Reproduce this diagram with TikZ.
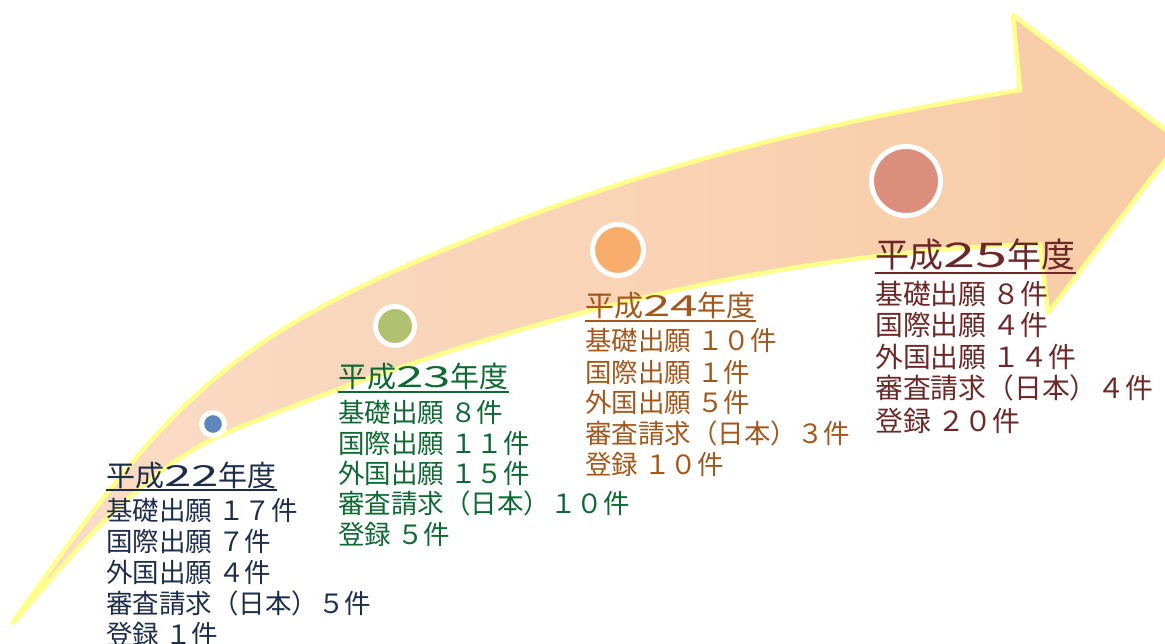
\documentclass[tikz,border=0pt]{standalone}
\usepackage{fontspec}
\newfontfamily\jp{Noto Sans CJK JP}
\newfontfamily\jpwide[FakeStretch=1.7]{Noto Sans CJK JP}
\definecolor{arrowL}{HTML}{FADCC7}
\definecolor{arrowR}{HTML}{F8CCA5}
\definecolor{glow}{HTML}{FFFF8C}
\definecolor{cA}{HTML}{1E2D4C}
\definecolor{cB}{HTML}{0E6934}
\definecolor{cC}{HTML}{A3571C}
\definecolor{cD}{HTML}{6C2828}
\definecolor{dA}{HTML}{5E87BE}
\definecolor{dB}{HTML}{B0C26F}
\definecolor{dC}{HTML}{F9AD6D}
\definecolor{dD}{HTML}{DB8E7C}
\tikzset{
  dot/.style={circle, draw=white, inner sep=0pt},
  ttl/.style={anchor=base west, inner sep=0pt, font=\jp\fontsize{29}{29}\selectfont},
  ttlbig/.style={anchor=base west, inner sep=0pt, font=\jp\fontsize{34}{34}\selectfont},
  bdy/.style={anchor=base west, inner sep=0pt, font=\jp\fontsize{26.5}{26.5}\selectfont},
  bdybig/.style={anchor=base west, inner sep=0pt, font=\jp\fontsize{27.8}{27.8}\selectfont},
  uline/.style={line width=2pt}
}
\begin{document}
\begin{tikzpicture}[x=1pt,y=-1pt]
\useasboundingbox (0,0) rectangle (1165,644);
\clip (0,0) rectangle (1165,644);
% arrow
\path[left color=arrowL, right color=arrowR, draw=glow, line width=4.5pt, line join=round]
  (13,622) .. controls (74,537) and (133,448) .. (213,380)
  .. controls (295,310) and (400,267) .. (500,227)
  .. controls (667,161) and (842,119) .. (1020,90)
  -- (1013,15) -- (1180,141) -- (1048,313) -- (1040,244)
  .. controls (764,252) and (489,326) .. (233,430)
  .. controls (142,467) and (77,549) .. (13,623)
  -- cycle;
% dots
\node[dot, fill=dA, line width=5pt, minimum size=23pt] (p22) at (213,424) {};
\node[dot, fill=dB, line width=5pt, minimum size=39pt] (p23) at (395,326) {};
\node[dot, fill=dC, line width=5pt, minimum size=51pt] (p24) at (618,250) {};
\node[dot, fill=dD, line width=5pt, minimum size=69pt] (p25) at (906,181) {};
% block 22
\node[ttl, text=cA] (t22) at (106,486) {平成{\jpwide 22}年度};
\draw[uline, cA] ([yshift=-4pt]t22.base west) -- ([yshift=-4pt]t22.base east);
\node[bdy, text=cA] (a22) at (106,520) {基礎出願 １７件};
\node[bdy, text=cA] (b22) at (106,551) {国際出願 ７件};
\node[bdy, text=cA] (c22) at (106,582) {外国出願 ４件};
\node[bdy, text=cA] (d22) at (106,613) {審査請求（日本）５件};
\node[bdy, text=cA] (e22) at (106,644) {登録 １件};
% block 23
\node[ttl, text=cB] (t23) at (338,388) {平成{\jpwide 23}年度};
\draw[uline, cB] ([yshift=-4pt]t23.base west) -- ([yshift=-4pt]t23.base east);
\node[bdy, text=cB] (a23) at (338,422) {基礎出願 ８件};
\node[bdy, text=cB] (b23) at (338,453) {国際出願 １１件};
\node[bdy, text=cB] (c23) at (338,483) {外国出願 １５件};
\node[bdy, text=cB] (d23) at (338,513) {審査請求（日本）１０件};
\node[bdy, text=cB] (e23) at (338,544) {登録 ５件};
% block 24
\node[ttl, text=cC] (t24) at (585,317) {平成{\jpwide 24}年度};
\draw[uline, cC] ([yshift=-4pt]t24.base west) -- ([yshift=-4pt]t24.base east);
\node[bdy, text=cC] (a24) at (585,351) {基礎出願 １０件};
\node[bdy, text=cC] (b24) at (585,382) {国際出願 １件};
\node[bdy, text=cC] (c24) at (585,412) {外国出願 ５件};
\node[bdy, text=cC] (d24) at (585,443) {審査請求（日本）３件};
\node[bdy, text=cC] (e24) at (585,474) {登録 １０件};
% block 25
\node[ttlbig, text=cD] (t25) at (875,268) {平成{\jpwide 25}年度};
\draw[uline, cD, line width=2.5pt] ([yshift=-5pt]t25.base west) -- ([yshift=-5pt]t25.base east);
\node[bdybig, text=cD] (a25) at (875,305) {基礎出願 ８件};
\node[bdybig, text=cD] (b25) at (875,336) {国際出願 ４件};
\node[bdybig, text=cD] (c25) at (875,367) {外国出願 １４件};
\node[bdybig, text=cD] (d25) at (875,399) {審査請求（日本）４件};
\node[bdybig, text=cD] (e25) at (875,431) {登録 ２０件};
\end{tikzpicture}
\end{document}
